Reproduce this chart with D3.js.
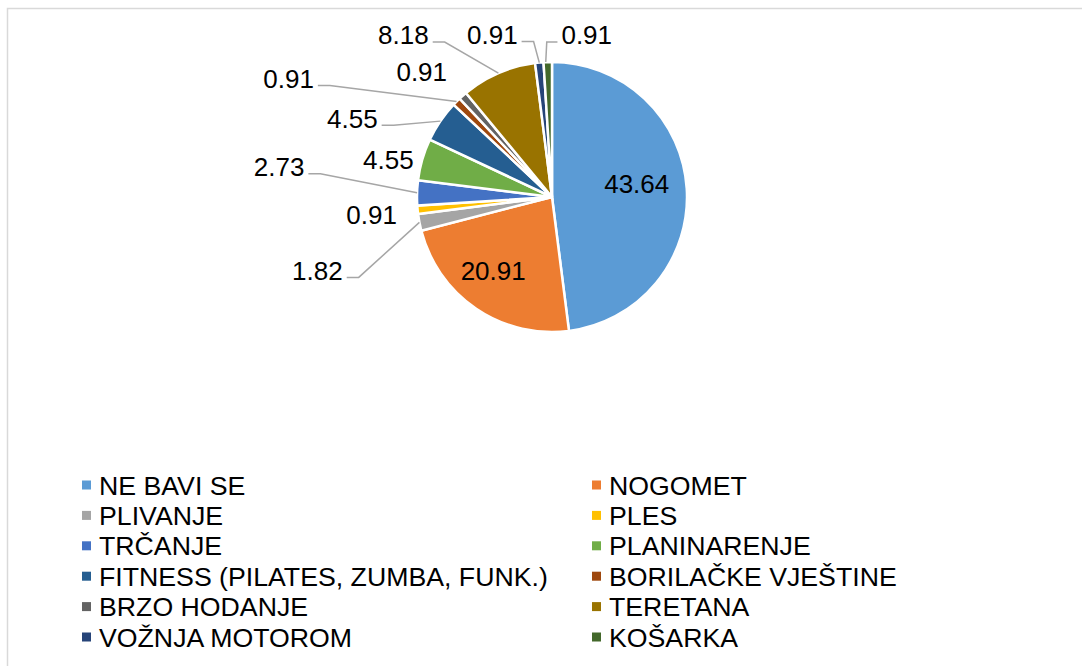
<!DOCTYPE html>
<html>
<head>
<meta charset="utf-8">
<script src="https://cdn.jsdelivr.net/npm/d3@7"></script>
<style>
  html, body { margin: 0; padding: 0; background: #fff; }
  svg { display: block; }
  text { font-family: "Liberation Sans", Arial, sans-serif; fill: #000; }
</style>
</head>
<body>
<svg id="chart" width="1082" height="666"></svg>
<script>
// ---- data ----
const categories = [
  "NE BAVI SE", "NOGOMET", "PLIVANJE", "PLES", "TRČANJE", "PLANINARENJE",
  "FITNESS (PILATES, ZUMBA, FUNK.)", "BORILAČKE VJEŠTINE", "BRZO HODANJE",
  "TERETANA", "VOŽNJA MOTOROM", "KOŠARKA"
];
const values = [43.64, 20.91, 1.82, 0.91, 2.73, 4.55, 4.55, 0.91, 0.91, 8.18, 0.91, 0.91];
const valueLabels = ["43.64", "20.91", "1.82", "0.91", "2.73", "4.55", "4.55", "0.91", "0.91", "8.18", "0.91", "0.91"];

// ---- styling / layout ----
const colors = ["#5B9BD5", "#ED7D31", "#A5A5A5", "#FFC000", "#4472C4", "#70AD47",
                "#255E91", "#9E480E", "#636363", "#997300", "#264478", "#43682B"];
// label centre offset relative to the slice's outer edge point at mid-angle
const labelOffsets = [[-50, -5], [17, -38], [-102, 48], [-46, 5], [-138, -26], [-34, 0],
                      [-88, -3], [-168, -23], [-41, -24], [-95, -38], [-47, -28], [39, -27]];
const showLeader = [false, false, true, false, true, false, true, true, false, true, true, true];

const svg = d3.select("#chart");
const W = 1082, H = 666;
const cx = 552, cy = 197, R = 135;
const labelFont = 26;
const legendFont = 26.7;

// chart border
svg.append("rect")
  .attr("x", 7.5).attr("y", 8.5)
  .attr("width", W + 20).attr("height", H + 20)
  .attr("fill", "#fff").attr("stroke", "#d9d9d9").attr("stroke-width", 1.5);

const pie = d3.pie().sort(null).value(d => d).startAngle(0).endAngle(2 * Math.PI);
const arcs = pie(values);
const arc = d3.arc().innerRadius(0).outerRadius(R);

const g = svg.append("g").attr("transform", `translate(${cx},${cy})`);

g.selectAll("path.slice")
  .data(arcs)
  .join("path")
  .attr("class", "slice")
  .attr("d", arc)
  .attr("fill", (d, i) => colors[i])
  .attr("stroke", "#fff")
  .attr("stroke-width", 2.5)
  .attr("stroke-linejoin", "miter");

// labels
arcs.forEach((d, i) => {
  const mid = (d.startAngle + d.endAngle) / 2;
  const ex = Math.sin(mid) * R, ey = -Math.cos(mid) * R;
  const tx = ex + labelOffsets[i][0], ty = ey + labelOffsets[i][1];
  const t = g.append("text")
    .attr("x", tx).attr("y", ty)
    .attr("dy", "0.36em")
    .attr("text-anchor", "middle")
    .attr("font-size", labelFont)
    .text(valueLabels[i]);
  if (showLeader[i]) {
    const w = t.node().getComputedTextLength();
    const ly = ty + 7;
    let pts;
    if (tx < ex) {
      const sx = tx + w / 2 + 4;
      pts = [[sx, ly], [sx + 12, ly], [ex, ey]];
    } else {
      const sx = tx - w / 2 - 4;
      pts = [[sx, ly], [ex - 1, ly], [ex - 2, ey]];
    }
    g.insert("path", "text")
      .attr("d", d3.line()(pts))
      .attr("fill", "none")
      .attr("stroke", "#a6a6a6")
      .attr("stroke-width", 1.5);
  }
});

// legend
const legendX = [82, 592];
const legendY0 = 485, legendDy = 30.4;
const leg = svg.append("g");
categories.forEach((c, i) => {
  const col = i % 2, row = Math.floor(i / 2);
  const x = legendX[col], y = legendY0 + row * legendDy;
  leg.append("rect")
    .attr("x", x).attr("y", y - 4.5)
    .attr("width", 9).attr("height", 9)
    .attr("fill", colors[i]);
  leg.append("text")
    .attr("x", x + 17).attr("y", y)
    .attr("dy", "0.36em")
    .attr("font-size", legendFont)
    .text(c);
});
</script>
</body>
</html>
